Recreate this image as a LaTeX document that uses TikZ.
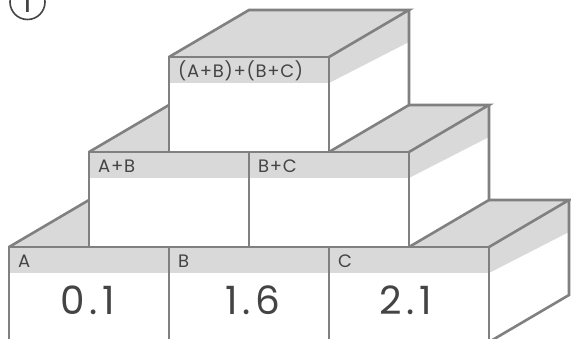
\documentclass[tikz,border=0pt]{standalone}
\usepackage{fontspec}
\setmainfont{Poppins}
\newfontfamily\valuefont[LetterSpace=12]{Poppins}
\newfontfamily\tagfont[LetterSpace=4]{Poppins}
\usetikzlibrary{positioning}
\definecolor{edgegray}{HTML}{808080}
\definecolor{facegray}{HTML}{D9D9D9}
\definecolor{inkgray}{HTML}{444444}
\tikzset{
  edge/.style={draw=edgegray, line width=2.6pt},
  tag/.style={text=inkgray, font=\tagfont\fontsize{18}{18}\selectfont, anchor=base west, inner sep=0pt},
  value/.style={text=inkgray, font=\valuefont\fontsize{39}{39}\selectfont, anchor=base west, inner sep=0pt},
}
% one box: name, front x, front top y, label
\newcommand{\brick}[4]{%
  \fill[white] (#2,#3) rectangle ++(160,95);
  \fill[facegray] (#2,#3) rectangle ++(160,26);
  \fill[facegray] (#2,#3) -- ++(80,-47) -- ++(160,0) -- ++(-80,47) -- cycle;
  \fill[white] (#2+160,#3) -- ++(80,-47) -- ++(0,95) -- ++(-80,47) -- cycle;
  \fill[facegray] (#2+160,#3) -- ++(80,-47) -- ++(0,32) -- (#2+160,#3+26) -- cycle;
  \draw[edge] (#2,#3) rectangle ++(160,95);
  \draw[edge] (#2,#3) -- ++(80,-47) -- ++(160,0) -- ++(-80,47);
  \draw[edge] (#2+240,#3-47) -- ++(0,95) -- ++(-80,47);
  \node[tag] (#1) at (#2+9,#3+20) {#4};
}

\begin{document}
\begin{tikzpicture}[x=1pt,y=-1pt]
    \useasboundingbox (0,0) rectangle (571,338);
    \clip (0,0) rectangle (571,338);

    \node[circle, draw=inkgray, line width=1.6pt, minimum size=35pt, inner sep=0pt,
      text=inkgray, font=\fontsize{30}{30}\selectfont] (num) at (27.5,2) {1};

    % bottom row
    \brick{a}{9}{247}{A}
    \brick{b}{169}{247}{B}
    \brick{c}{329}{247}{C}
    % middle row
    \brick{ab}{89}{152}{A+B}
    \brick{bc}{249}{152}{B+C}
    % top
    \brick{abc}{169}{57}{(A+B)+(B+C)}

    \node[value] (va) at (60,314) {0.1};
    \node[value] (vb) at (225,314) {1.6};
    \node[value] (vc) at (379,314) {2.1};
\end{tikzpicture}
\end{document}
